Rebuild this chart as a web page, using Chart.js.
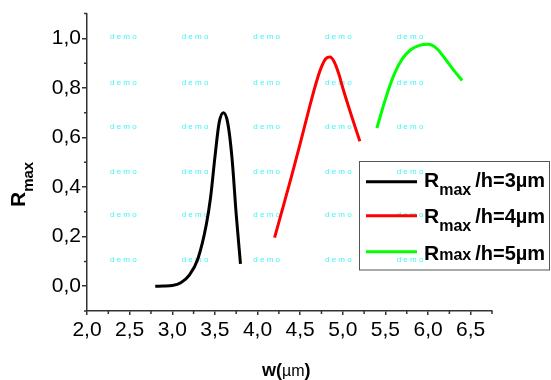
<!DOCTYPE html>
<html>
<head>
<meta charset="utf-8">
<script src="https://cdn.jsdelivr.net/npm/chart.js@4.4.0/dist/chart.umd.min.js"></script>
<style>
  html, body { margin: 0; padding: 0; background: #fff; }
  #wrap { width: 551px; height: 380px; }
</style>
</head>
<body>
<div id="wrap"><canvas id="rmaxChart" width="551" height="380"></canvas></div>
<script>
// R_max versus w, one curve per h
const wH3 = [2.8, 2.9, 3.0, 3.1, 3.2, 3.3, 3.4, 3.45, 3.5, 3.55, 3.6, 3.65, 3.7, 3.75, 3.8];
const rH3 = [0, 0.001, 0.003, 0.014, 0.045, 0.11, 0.25, 0.36, 0.52, 0.66, 0.70, 0.66, 0.52, 0.29, 0.09];

const wH4 = [4.2, 4.3, 4.4, 4.5, 4.6, 4.7, 4.75, 4.8, 4.85, 4.9, 4.95, 5.0, 5.1, 5.2];
const rH4 = [0.196, 0.32, 0.445, 0.575, 0.71, 0.835, 0.885, 0.918, 0.925, 0.905, 0.86, 0.80, 0.69, 0.585];

const wH5 = [5.4, 5.5, 5.6, 5.7, 5.8, 5.9, 6.0, 6.1, 6.2, 6.3, 6.4];
const rH5 = [0.638, 0.755, 0.853, 0.918, 0.955, 0.972, 0.976, 0.96, 0.918, 0.872, 0.83];

const seriesNames = ['/h=3µm', '/h=4µm', '/h=5µm'];
const seriesColors = ['#000000', '#ff0000', '#00ff00'];

const xTicks = [2.0, 2.5, 3.0, 3.5, 4.0, 4.5, 5.0, 5.5, 6.0, 6.5];
const xMinor = [2.25, 2.75, 3.25, 3.75, 4.25, 4.75, 5.25, 5.75, 6.25, 6.75];
const yTicks = [0.0, 0.2, 0.4, 0.6, 0.8, 1.0];
const yMinor = [-0.1, 0.1, 0.3, 0.5, 0.7, 0.9, 1.1];

const FONT = 'Arial, "Liberation Sans", sans-serif';
const AXIS = '#333333';

const pts = (ws, rs) => ws.map((w, i) => ({ x: w, y: rs[i] }));
const comma = v => v.toFixed(1).replace('.', ',');

// small minor ticks on both axes
const minorTicks = {
    id: 'minorTicks',
    afterDraw(chart) {
        const ctx = chart.ctx;
        const xs = chart.scales.x, ys = chart.scales.y;
        ctx.save();
        ctx.strokeStyle = AXIS;
        ctx.lineWidth = 1.5;
        ctx.beginPath();
        xMinor.forEach(v => {
            const px = xs.getPixelForValue(v);
            ctx.moveTo(px, ys.bottom);
            ctx.lineTo(px, ys.bottom + 3);
        });
        yMinor.forEach(v => {
            const py = ys.getPixelForValue(v);
            ctx.moveTo(xs.left, py);
            ctx.lineTo(xs.left - 3, py);
        });
        ctx.stroke();
        ctx.restore();
    }
};

// faint watermark text behind the curves
const watermark = {
    id: 'watermark',
    beforeDatasetsDraw(chart) {
        const ctx = chart.ctx;
        ctx.save();
        ctx.fillStyle = '#3ff5f5';
        ctx.font = '8px ' + FONT;
        ctx.textBaseline = 'middle';
        [110, 181.7, 253.3, 325, 396.7].forEach(x => {
            [36.7, 82.3, 126.7, 171.7, 215, 259.3].forEach(y => {
                ctx.fillText('d e m o', x, y);
            });
        });
        ctx.restore();
    }
};

// axis titles with subscripts, and the boxed legend
const titlesAndLegend = {
    id: 'titlesAndLegend',
    afterDraw(chart) {
        const ctx = chart.ctx;
        ctx.save();
        ctx.fillStyle = '#000';

        // y title: R_max, rotated
        ctx.save();
        ctx.translate(25, 207);
        ctx.rotate(-Math.PI / 2);
        ctx.font = 'bold 21px ' + FONT;
        ctx.fillText('R', 0, 0);
        const rw = ctx.measureText('R').width;
        ctx.font = 'bold 15px ' + FONT;
        ctx.fillText('max', rw, 8);
        ctx.restore();

        // x title: w(µm)
        let x = 262, base = 376;
        const parts = [['w', 'bold 18px '], ['(', 'bold 18px '], ['µm', '16px '], [')', 'bold 18px ']];
        parts.forEach(([t, f]) => {
            ctx.font = f + FONT;
            ctx.fillText(t, x, base);
            x += ctx.measureText(t).width;
        });

        // legend
        ctx.strokeStyle = '#555';
        ctx.lineWidth = 1;
        ctx.strokeRect(359.5, 161.5, 190, 108.5);
        const lineY = [181.7, 215.7, 251.7];
        const textY = [186.7, 223.3, 260];
        seriesNames.forEach((name, i) => {
            ctx.strokeStyle = seriesColors[i];
            ctx.lineWidth = 3;
            ctx.beginPath();
            ctx.moveTo(366, lineY[i]);
            ctx.lineTo(417, lineY[i]);
            ctx.stroke();

            let tx = 424;
            ctx.font = 'bold 21px ' + FONT;
            ctx.fillText('R', tx, textY[i]);
            tx += ctx.measureText('R').width;
            ctx.font = 'bold 16px ' + FONT;
            const sub = i < 2 ? 8 : 0;
            ctx.fillText('max', tx, textY[i] + sub);
            tx += ctx.measureText('max').width + 4;
            ctx.font = 'bold 20px ' + FONT;
            ctx.fillText(name, tx, textY[i]);
        });
        ctx.restore();
    }
};

const makeSet = (ws, rs, i) => ({
    data: pts(ws, rs),
    borderColor: seriesColors[i],
    borderWidth: 3,
    pointRadius: 0,
    fill: false,
    cubicInterpolationMode: 'monotone'
});

new Chart(document.getElementById('rmaxChart'), {
    type: 'line',
    data: {
        datasets: [makeSet(wH3, rH3, 0), makeSet(wH4, rH4, 1), makeSet(wH5, rH5, 2)]
    },
    options: {
        responsive: false,
        animation: false,
        layout: { padding: { top: 11, right: 59, left: 0, bottom: 0 } },
        plugins: { legend: { display: false }, tooltip: { enabled: false } },
        scales: {
            x: {
                type: 'linear',
                min: 2,
                max: 6.75,
                afterBuildTicks: s => { s.ticks = xTicks.map(v => ({ value: v })); },
                afterFit: s => { s.height = 69; },
                grid: { drawOnChartArea: false, tickLength: 4, color: AXIS, lineWidth: 1.5 },
                border: { color: AXIS, width: 1.5 },
                ticks: {
                    callback: v => comma(v),
                    color: '#000',
                    font: { family: FONT, size: 21 },
                    padding: 3,
                    maxRotation: 0,
                    autoSkip: false
                }
            },
            y: {
                min: -0.1,
                max: 1.1,
                afterBuildTicks: s => { s.ticks = yTicks.map(v => ({ value: v })); },
                afterFit: s => { s.width = 87; },
                grid: { drawOnChartArea: false, tickLength: 5, color: AXIS, lineWidth: 1.5 },
                border: { color: AXIS, width: 1.5 },
                ticks: {
                    callback: v => comma(v),
                    color: '#000',
                    font: { family: FONT, size: 21 },
                    padding: 1
                }
            }
        }
    },
    plugins: [watermark, minorTicks, titlesAndLegend]
});
</script>
</body>
</html>
